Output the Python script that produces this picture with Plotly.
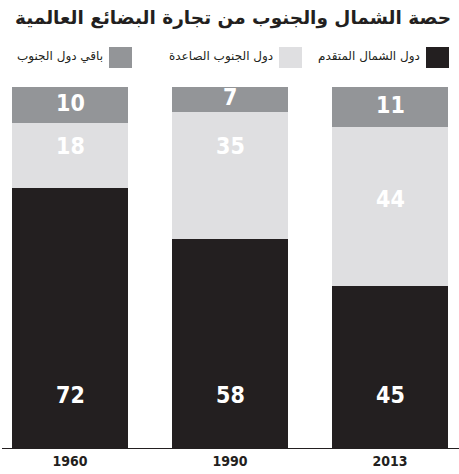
import plotly.graph_objects as go

years = ["1960", "1990", "2013"]
north = [72, 58, 45]
emerging = [18, 35, 44]
rest = [10, 7, 11]

series_names = ["دول الشمال المتقدم", "دول الجنوب الصاعدة", "باقي دول الجنوب"]
series_colors = ["#231f20", "#dfdfe1", "#939598"]
title_text = "حصة الشمال والجنوب من تجارة البضائع العالمية"

xs = [0, 1, 2]
fig = go.Figure()
for vals, name, col in zip([north, emerging, rest], series_names, series_colors):
    fig.add_trace(go.Bar(x=xs, y=vals, name=name, marker=dict(color=col, line=dict(width=0)),
                         width=0.725, hoverinfo="skip"))

num_font = dict(family="DejaVu Sans Condensed, DejaVu Sans", size=23, color="white", weight="bold")
for i in xs:
    fig.add_annotation(x=i, y=14.7, text=str(north[i]), showarrow=False, font=num_font)
    top_em = north[i] + emerging[i]
    off = [6.3, 9.3, 20][i]
    fig.add_annotation(x=i, y=top_em - off, text=str(emerging[i]), showarrow=False, font=num_font)
    fig.add_annotation(x=i, y=top_em + rest[i] / 2 + 0.6, text=str(rest[i]), showarrow=False, font=num_font)

PW, PB = 457, 448  # plot width, baseline pixel
def px(x):
    return (x - 2) / PW
def py(y):
    return (PB - y) / 361

# title
fig.add_annotation(xref="paper", yref="paper", x=px(453), y=py(18),
                   xanchor="right", yanchor="middle", showarrow=False,
                   text=title_text, font=dict(family="DejaVu Sans", size=18.5, color="#231f20", weight="bold"))

# legend (manual, right-to-left)
sq_right = [449, 302, 132]
for name, col, r in zip(series_names, series_colors, sq_right):
    fig.add_shape(type="rect", xref="paper", yref="paper", x0=px(r - 23), x1=px(r), y0=py(68), y1=py(47),
                  fillcolor=col, line=dict(width=0))
    fig.add_annotation(xref="paper", yref="paper", x=px(r - 27), y=py(57),
                       xanchor="right", yanchor="middle", showarrow=False, text=name,
                       font=dict(family="DejaVu Sans", size=12, color="#231f20"))

fig.update_layout(
    width=459, height=474,
    margin=dict(l=2, r=0, t=87, b=26),
    barmode="stack", showlegend=False,
    plot_bgcolor="white", paper_bgcolor="white",
    xaxis=dict(tickmode="array", tickvals=xs, ticktext=years, range=[-0.425, 2.431],
               showgrid=False, zeroline=False, showline=True, linecolor="#231f20", linewidth=1,
               ticks="", tickfont=dict(family="DejaVu Sans Condensed, DejaVu Sans", size=14,
                                       color="#231f20", weight="bold")),
    yaxis=dict(range=[0, 100], visible=False, showgrid=False, zeroline=False),
)
fig.write_html("out.html", config={"displayModeBar": False},
               post_script="document.body.style.margin='0px';")
